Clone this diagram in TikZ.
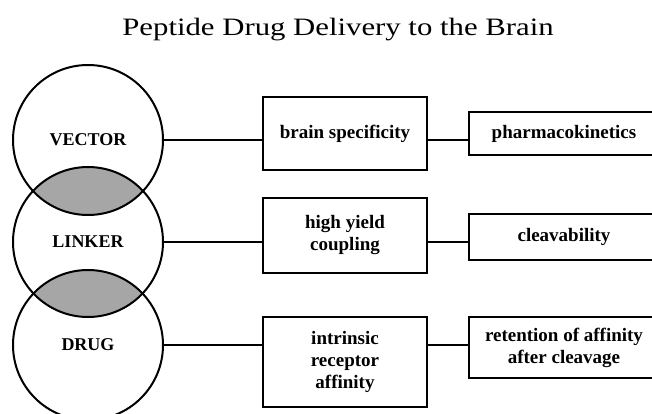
\documentclass[tikz,border=0pt]{standalone}
\usepackage{fontspec}
\setmainfont{Liberation Serif}
\usepackage{graphicx}
\begin{document}
\begin{tikzpicture}[x=1pt,y=-1pt,
  every node/.style={inner sep=0pt},
  ring/.style={circle, draw, line width=2pt, minimum size=150pt, font=\fontsize{18}{20}\selectfont\bfseries},
  box/.style={draw, line width=2pt, align=center, font=\fontsize{19}{22}\selectfont\bfseries},
  conn/.style={line width=2pt},
  lens/.style={fill=black!35}]
\useasboundingbox (0,0) rectangle (652,414);
\clip (0,0) rectangle (652,414);
\fill[white] (0,0) rectangle (652,414);
% title
\node[font=\fontsize{25}{28}\selectfont] (title) at (338,30) {\scalebox{1.23}[1]{Peptide Drug Delivery to the Brain}};
% lenses
\begin{scope}
  \clip (88,140) circle (75);
  \fill[lens] (88,242) circle (75);
\end{scope}
\begin{scope}
  \clip (88,242) circle (75);
  \fill[lens] (88,345) circle (75);
\end{scope}
% circles
\node[ring] (vec) at (88,140) {VECTOR};
\node[ring] (lnk) at (88,242) {LINKER};
\node[ring] (drg) at (88,345) {DRUG};
% middle boxes
\node[box, minimum width=164pt, minimum height=73pt] (b1) at (345,133.5) {brain specificity};
\node[box, minimum width=164pt, minimum height=75pt] (b2) at (345,235.5) {high yield\\coupling};
\node[box, minimum width=164pt, minimum height=90pt] (b3) at (345,362) {intrinsic\\receptor\\affinity};
% right boxes
\node[box, minimum width=190pt, minimum height=43pt] (r1) at (564,133.5) {pharmacokinetics};
\node[box, minimum width=190pt, minimum height=46pt] (r2) at (564,237) {cleavability};
\node[box, minimum width=190pt, minimum height=61pt] (r3) at (564,347.5) {retention of affinity\\after cleavage};
% connectors
\draw[conn] (vec.east) -- (vec.east -| b1.west);
\draw[conn] (vec.east -| b1.east) -- (vec.east -| r1.west);
\draw[conn] (lnk.east) -- (lnk.east -| b2.west);
\draw[conn] (lnk.east -| b2.east) -- (lnk.east -| r2.west);
\draw[conn] (drg.east) -- (drg.east -| b3.west);
\draw[conn] (drg.east -| b3.east) -- (drg.east -| r3.west);
\end{tikzpicture}
\end{document}
